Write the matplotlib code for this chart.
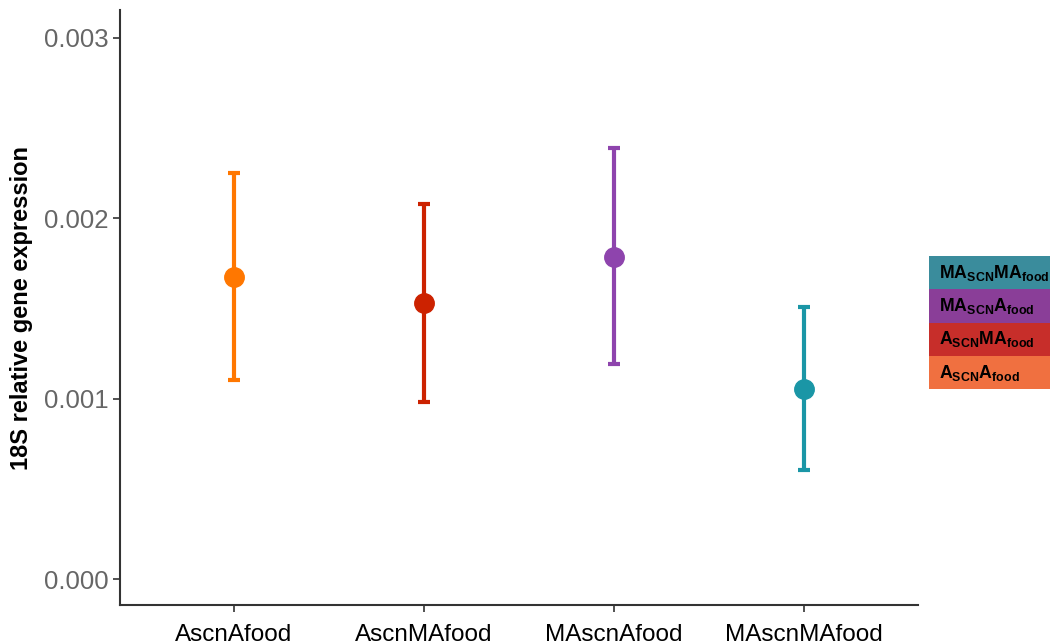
import matplotlib
matplotlib.use("Agg")
import matplotlib.pyplot as plt
from matplotlib.patches import Rectangle

plt.rcParams['font.family'] = ['Liberation Sans', 'DejaVu Sans']
plt.rcParams['mathtext.fontset'] = 'custom'
plt.rcParams['mathtext.rm'] = 'Liberation Sans:bold'
plt.rcParams['mathtext.bf'] = 'Liberation Sans:bold'
plt.rcParams['mathtext.it'] = 'Liberation Sans:bold'

categories = ["AscnAfood", "AscnMAfood", "MAscnAfood", "MAscnMAfood"]
means = [0.001675, 0.001531, 0.001786, 0.001054]
upper = [0.002252, 0.002080, 0.002390, 0.001509]
lower = [0.001104, 0.000982, 0.001192, 0.000605]
colors = ["#FF7700", "#CC2200", "#8E44AD", "#1A96A6"]

legend_labels = [r"$\mathbf{MA_{SCN}MA_{food}}$", r"$\mathbf{MA_{SCN}A_{food}}$",
                 r"$\mathbf{A_{SCN}MA_{food}}$", r"$\mathbf{A_{SCN}A_{food}}$"]
legend_colors = ["#3A8C9C", "#8A3E98", "#C72E2A", "#F07040"]

W, H = 1050, 644
fig = plt.figure(figsize=(W/100, H/100), dpi=100)
ax = fig.add_axes([120/W, 1-605/H, (918-120)/W, (605-10)/H])

x = list(range(1, len(categories)+1))
for xi, m, u, l, c in zip(x, means, upper, lower, colors):
    ax.errorbar([xi], [m], yerr=[[m-l], [u-m]], fmt='o', color=c, ecolor=c,
                elinewidth=3, capsize=4, capthick=3, markersize=14, zorder=3)

ax.set_xlim(0.4, 4.6)
ax.set_ylim(-0.000144, 0.003155)
ax.set_xticks(x)
ax.set_xticklabels(categories, fontsize=17.5, color='black')
ax.set_yticks([0, 0.001, 0.002, 0.003])
ax.set_yticklabels(["0.000", "0.001", "0.002", "0.003"], fontsize=18.5, color='#666666')
ax.set_ylabel("18S relative gene expression", fontsize=17, fontweight='bold', labelpad=8)
for s in ['top', 'right']:
    ax.spines[s].set_visible(False)
for s in ['left', 'bottom']:
    ax.spines[s].set_color('#333333')
    ax.spines[s].set_linewidth(1.5)
ax.tick_params(axis='both', length=5, width=1.2, color='#333333', pad=3)
ax.tick_params(axis='x', pad=9)

# legend boxes
top = 256
hgt = 33.3
for i, (lab, col) in enumerate(zip(legend_labels, legend_colors)):
    y0 = top + i*hgt
    fig.patches.append(Rectangle((929/W, 1-(y0+hgt)/H), (W-929)/W, hgt/H,
                                 transform=fig.transFigure, facecolor=col,
                                 edgecolor='none'))
    fig.text(939/W, 1-(y0+hgt/2)/H, lab, fontsize=12.8, va='center', ha='left', color='black')

fig.savefig("out.png", dpi=100)
